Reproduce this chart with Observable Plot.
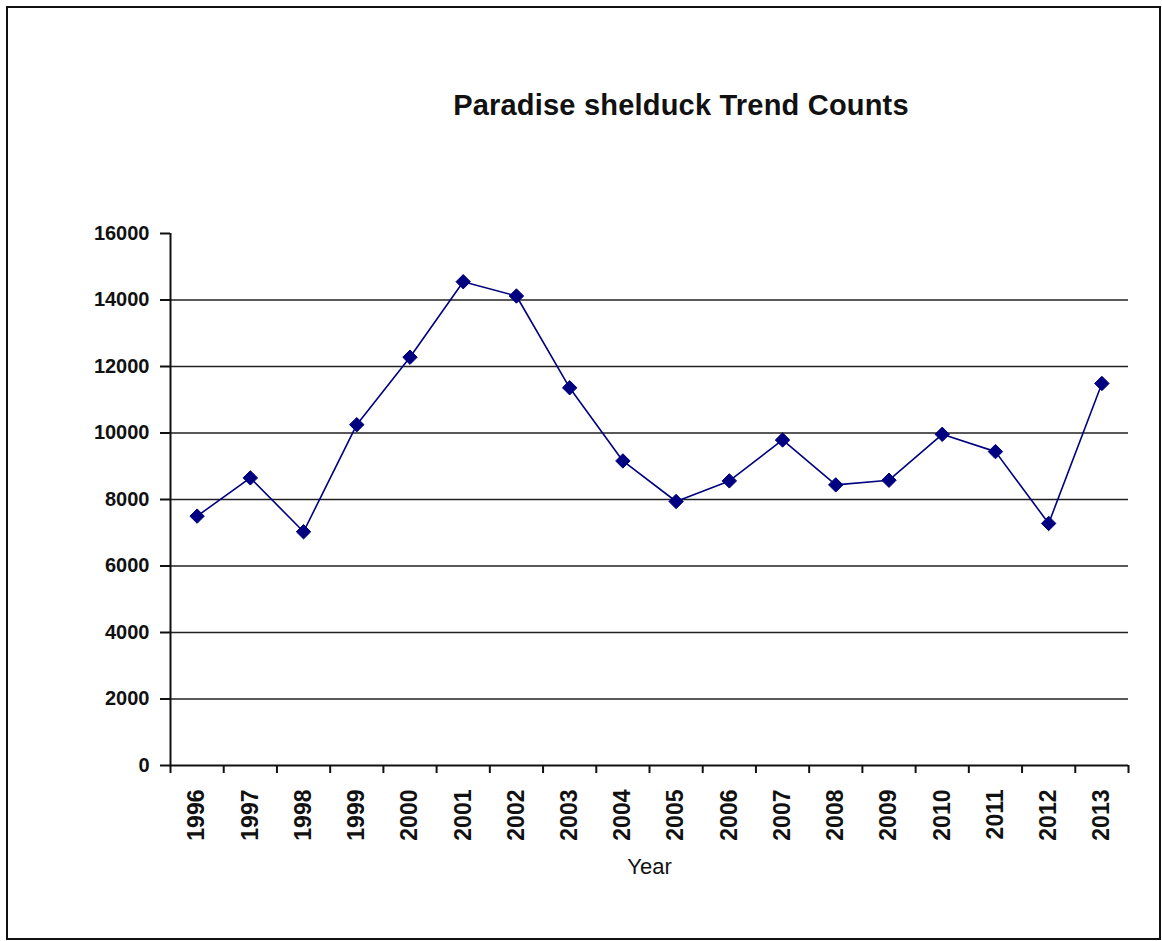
<!DOCTYPE html>
<html>
<head>
<meta charset="utf-8">
<script src="https://cdn.jsdelivr.net/npm/d3@7"></script>
<script src="https://cdn.jsdelivr.net/npm/@observablehq/plot@0.6"></script>
<style>
  html, body { margin: 0; padding: 0; background: #fff; }
  body { width: 1162px; height: 941px; position: relative; overflow: hidden; font-family: "Liberation Sans", Arial, sans-serif; }
  #frame { position: absolute; left: 6px; top: 6px; width: 1155px; height: 934px; border: 2px solid #111; box-sizing: border-box; }
  #title { position: absolute; left: 681px; top: 91px; transform: translateX(-50%); font-size: 29px; line-height: 29px; letter-spacing: 0.2px; font-weight: bold; color: #111; white-space: nowrap; }
  #chart { position: absolute; left: 0; top: 150px; }
</style>
</head>
<body>
<div id="frame"></div>
<div id="title">Paradise shelduck Trend Counts</div>
<div id="chart"></div>
<script>
const years = ["1996","1997","1998","1999","2000","2001","2002","2003","2004","2005","2006","2007","2008","2009","2010","2011","2012","2013"];
const counts = [7500, 8650, 7030, 10250, 12280, 14550, 14120, 11360, 9160, 7940, 8560, 9790, 8440, 8580, 9960, 9440, 7280, 11490];
const yTicks = [0, 2000, 4000, 6000, 8000, 10000, 12000, 14000, 16000];
const gridValues = [2000, 4000, 6000, 8000, 10000, 12000, 14000];
const xLabel = "Year";

const data = years.map((y, i) => ({year: y, pos: i + 0.5, count: counts[i]}));
const boundaries = d3.range(0, years.length + 1);
const centers = years.map((y, i) => i + 0.5);
const navy = "#000080";

const chart = Plot.plot({
  width: 1162,
  height: 760,
  marginLeft: 170,
  marginRight: 34,
  marginTop: 83,
  marginBottom: 145,
  style: {fontFamily: "'Liberation Sans', Arial, sans-serif", background: "transparent", color: "#111"},
  x: {type: "linear", domain: [0, years.length], axis: null},
  y: {type: "linear", domain: [0, 16000], axis: null},
  marks: [
    Plot.ruleY(gridValues, {stroke: "#222", strokeWidth: 1.6}),
    Plot.ruleY([0], {stroke: "#111", strokeWidth: 2}),
    Plot.ruleX([0], {y1: 0, y2: 16000, stroke: "#111", strokeWidth: 2}),
    Plot.axisY({anchor: "left", ticks: yTicks, tickSize: 10, tickPadding: 11, fontSize: 20, fontWeight: "bold", strokeWidth: 2, tickFormat: d3.format("d"), label: null}),
    Plot.axisX({anchor: "bottom", ticks: boundaries, tickSize: 8, strokeWidth: 2, tickFormat: () => "", label: null}),
    Plot.axisX({anchor: "bottom", ticks: centers, tickSize: 0, tickPadding: 24, tickRotate: -90, fontSize: 23, fontWeight: "bold", tickFormat: d => years[Math.floor(d)], label: null}),
    Plot.line(data, {x: "pos", y: "count", stroke: navy, strokeWidth: 1.6}),
    Plot.dot(data, {x: "pos", y: "count", symbol: "diamond2", r: 6.5, fill: navy, stroke: navy, strokeWidth: 1}),
    Plot.text([xLabel], {frameAnchor: "bottom", dy: 101, lineAnchor: "middle", fontSize: 22, fill: "#111"})
  ]
});
document.getElementById("chart").appendChild(chart);
</script>
</body>
</html>
